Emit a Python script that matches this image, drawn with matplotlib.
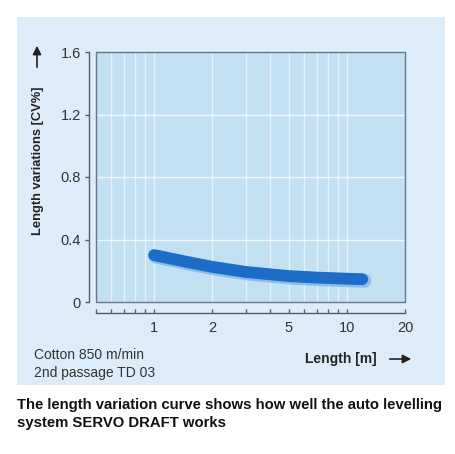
import matplotlib
matplotlib.use("Agg")
import matplotlib.pyplot as plt
from matplotlib.patches import Rectangle, FancyArrowPatch
from matplotlib.ticker import FixedLocator, NullFormatter, FixedFormatter
import numpy as np

# data
length_m = [1.0, 1.5, 2.0, 3.0, 4.0, 5.0, 7.0, 10.0, 12.0]
cv_pct = [0.30, 0.255, 0.225, 0.192, 0.177, 0.166, 0.156, 0.149, 0.146]
x_major = [1, 2, 5, 10, 20]
x_major_labels = ["1", "2", "5", "10", "20"]
x_minor = [0.5, 0.6, 0.7, 0.8, 0.9, 3, 4, 6, 7, 8, 9]
y_ticks = [0, 0.4, 0.8, 1.2, 1.6]
y_labels = ["0", "0.4", "0.8", "1.2", "1.6"]

W, H = 455, 454
fig = plt.figure(figsize=(W / 100, H / 100), dpi=100)
fig.patch.set_facecolor("white")
plt.rcParams["font.family"] = ["Liberation Sans", "DejaVu Sans"]

panel_col = "#dcedf9"
plot_col = "#c3e0f3"
fig.patches.append(Rectangle((17 / W, 1 - 385 / H), (445 - 17) / W, (385 - 17) / H,
                             transform=fig.transFigure, facecolor=panel_col,
                             edgecolor="none", zorder=-10))

ax = fig.add_axes([96 / W, 1 - 302 / H, (405 - 96) / W, (302 - 52) / H])
ax.set_facecolor(plot_col)
ax.set_xscale("log")
ax.set_xlim(0.5, 20)
ax.set_ylim(0, 1.6)

# grid
for gx in [0.6, 0.7, 0.8, 0.9, 1, 2, 3, 4, 5, 6, 7, 8, 9, 10]:
    ax.axvline(gx, color="white", lw=1.0, alpha=0.6, zorder=1)
for gy in [0.4, 0.8, 1.2]:
    ax.axhline(gy, color="white", lw=1.0, alpha=0.75, zorder=1)

# curve with soft halo
ax.plot(np.array(length_m) * 1.025, np.array(cv_pct) - 0.01, color="#86b9e8",
        lw=10, solid_capstyle="round", zorder=2, alpha=0.9)
ax.plot(length_m, cv_pct, color="#1c6cc8", lw=8.5, solid_capstyle="round", zorder=3)

# border around plot area
ax.add_patch(Rectangle((0, 0), 1, 1, transform=ax.transAxes, fill=False,
                       edgecolor="#6a7680", lw=1.0, zorder=5, clip_on=False))

for s in ["top", "right"]:
    ax.spines[s].set_visible(False)
ax.spines["left"].set_position(("outward", 5))
ax.spines["bottom"].set_position(("outward", 8))
ax.spines["left"].set_bounds(0, 1.6)
ax.spines["bottom"].set_bounds(0.5, 20)
for s in ["left", "bottom"]:
    ax.spines[s].set_color("#555b60")
    ax.spines[s].set_linewidth(1.0)

ax.xaxis.set_major_locator(FixedLocator(x_major))
ax.xaxis.set_major_formatter(FixedFormatter(x_major_labels))
ax.xaxis.set_minor_locator(FixedLocator(x_minor))
ax.xaxis.set_minor_formatter(NullFormatter())
ax.tick_params(axis="x", which="both", direction="in", length=3, width=1,
               color="#555b60", labelsize=10.5, labelcolor="#333333", pad=6)
ax.set_yticks(y_ticks)
ax.set_yticklabels(y_labels)
ax.tick_params(axis="y", which="both", direction="out", length=3, width=1,
               color="#555b60", labelsize=10.5, labelcolor="#333333", pad=3)

# y label with arrow
fig.text(38 / W, 1 - 161 / H, "Length variations [CV%]", rotation=90, fontsize=9.3,
         fontweight="bold", color="#222222", ha="center", va="center")
fig.patches.append(FancyArrowPatch(
    (37 / W, 1 - 70 / H), (37 / W, 1 - 43 / H), transform=fig.transFigure,
    arrowstyle="-|>,head_length=5,head_width=2.5", color="#222222", lw=1.2,
    mutation_scale=1))

# x label with arrow
fig.text(305 / W, 1 - 359 / H, "Length [m]", fontsize=10, fontweight="bold",
         color="#222222", ha="left", va="center")
fig.patches.append(FancyArrowPatch(
    (387 / W, 1 - 359 / H), (414 / W, 1 - 359 / H), transform=fig.transFigure,
    arrowstyle="-|>,head_length=5,head_width=2.5", color="#222222", lw=1.2,
    mutation_scale=1))

# annotations
fig.text(34 / W, 1 - 355 / H, "Cotton 850 m/min", fontsize=10, color="#333333",
         ha="left", va="center")
fig.text(34 / W, 1 - 373 / H, "2nd passage TD 03", fontsize=10, color="#333333",
         ha="left", va="center")

# caption
fig.text(17 / W, 1 - 405 / H, "The length variation curve shows how well the auto levelling",
         fontsize=10.7, fontweight="bold", color="#111111", ha="left", va="center")
fig.text(17 / W, 1 - 423 / H, "system SERVO DRAFT works",
         fontsize=10.7, fontweight="bold", color="#111111", ha="left", va="center")

fig.savefig("out.png", dpi=100, facecolor="white")
